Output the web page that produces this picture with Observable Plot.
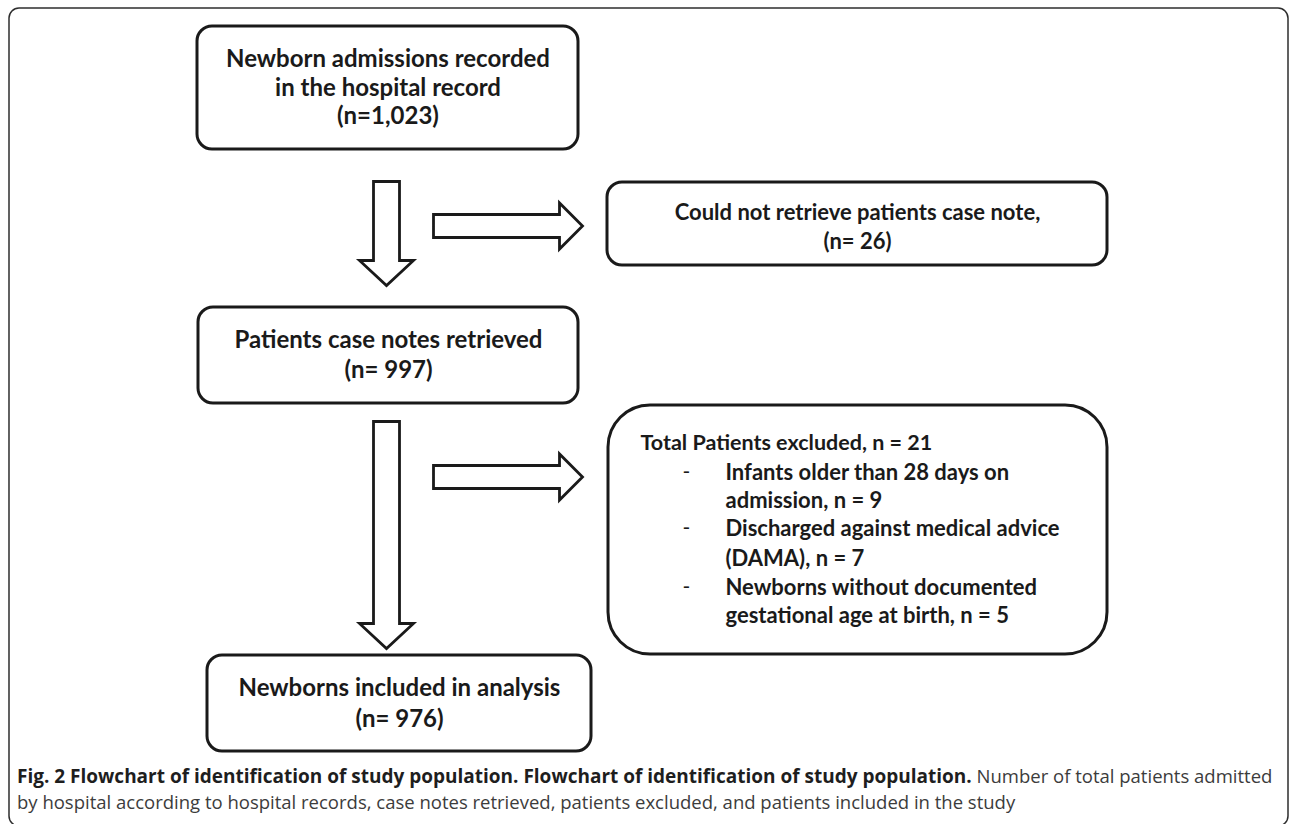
<!DOCTYPE html>
<html><head><meta charset="utf-8">
<script src="https://cdn.jsdelivr.net/npm/d3@7"></script>
<script src="https://cdn.jsdelivr.net/npm/@observablehq/plot@0.6"></script>
<style>
html,body{margin:0;padding:0;background:#fff;}
#wrap{position:relative;width:1290px;height:824px;overflow:hidden;}
#chart{position:absolute;left:0;top:0;}
#caption{position:absolute;left:17px;top:763px;font-family:"Open Sans",sans-serif;font-size:18.5px;line-height:25px;color:#3c3c3c;white-space:nowrap;}
#caption b{color:#1e1e1e;font-weight:700;font-size:19px;}
</style></head><body>
<div id="wrap"><div id="chart"></div><div id="caption"></div></div>
<script>
// ---------- data ----------
const stageLines = [["Newborn admissions recorded", "in the hospital record"], ["Patients case notes retrieved"], ["Newborns included in analysis"]];
const stageCounts = [1023, 997, 976];
const excludedLabel = "Could not retrieve patients case note,";
const excludedCount = 26;
const totalExcludedLabel = "Total Patients excluded";
const totalExcludedCount = 21;
const reasonLines = [["Infants older than 28 days on", "admission"], ["Discharged against medical advice", "(DAMA)"], ["Newborns without documented", "gestational age at birth"]];
const reasonCounts = [9, 7, 5];
const figLabel = "Fig. 2";
const figTitle = "Flowchart of identification of study population. Flowchart of identification of study population.";
const figDescLine1 = "Number of total patients admitted";
const figDescLine2 = "by hospital according to hospital records, case notes retrieved, patients excluded, and patients included in the study";

// ---------- layout ----------
const W = 1290, H = 824;
const ink = "#1a1a1a";
const frame = [{x1: 9, x2: 1288, y1: 8, y2: 826}];
const stageBoxes = [
  {x1: 197, x2: 578, y1: 26, y2: 149, lineY: [59, 88, 116]},
  {x1: 198, x2: 578, y1: 307, y2: 403, lineY: [340, 370]},
  {x1: 207, x2: 591, y1: 655, y2: 751, lineY: [688, 719]}
];
const exclBox = {x1: 607, x2: 1107, y1: 182, y2: 265, lineY: [212, 241]};
const totalBox = {x1: 608, x2: 1107, y1: 405, y2: 654, headX: 640, dashX: 686, textX: 725, lineY: [443, 472, 500, 528, 558, 587, 615]};
const downArrows = [
  {cx: 386, shaftW: 26, top: 181, headY: 260, headW: 54, tip: 285},
  {cx: 386, shaftW: 26, top: 421, headY: 623, headW: 54, tip: 648}
];
const rightArrows = [
  {cy: 225.5, shaftH: 23, left: 433, headX: 559, headH: 46, tip: 582},
  {cy: 476.5, shaftH: 23, left: 433, headX: 559, headH: 46, tip: 582}
];

// ---------- derived ----------
const fmt = d3.format(",");
const stageText = [];
stageBoxes.forEach((b, i) => {
  const cx = (b.x1 + b.x2) / 2;
  const lines = [...stageLines[i], i === 0 ? `(n=${fmt(stageCounts[i])})` : `(n= ${fmt(stageCounts[i])})`];
  lines.forEach((t, j) => stageText.push({x: cx, y: b.lineY[j], text: t}));
});
const exclText = [excludedLabel, `(n= ${excludedCount})`].map((t, j) =>
  ({x: (exclBox.x1 + exclBox.x2) / 2, y: exclBox.lineY[j], text: t}));

const headText = [{x: totalBox.headX, y: totalBox.lineY[0], text: `${totalExcludedLabel}, n = ${totalExcludedCount}`}];
const reasonText = [];
const dashes = [];
let k = 1;
reasonLines.forEach((lines, i) => {
  dashes.push({x: totalBox.dashX, y: totalBox.lineY[k], text: "-"});
  lines.forEach((t, j) => {
    const s = j === lines.length - 1 ? `${t}, n = ${reasonCounts[i]}` : t;
    reasonText.push({x: totalBox.textX, y: totalBox.lineY[k], text: s});
    k++;
  });
});

const arrowPts = [];
downArrows.forEach((a, i) => {
  const h = a.shaftW / 2, hw = a.headW / 2, id = "d" + i;
  [[a.cx, a.top], [a.cx + h, a.top], [a.cx + h, a.headY], [a.cx + hw, a.headY], [a.cx, a.tip],
   [a.cx - hw, a.headY], [a.cx - h, a.headY], [a.cx - h, a.top], [a.cx, a.top]]
    .forEach(([x, y]) => arrowPts.push({x, y, id}));
});
rightArrows.forEach((a, i) => {
  const h = a.shaftH / 2, hh = a.headH / 2, id = "r" + i;
  [[a.left, a.cy], [a.left, a.cy - h], [a.headX, a.cy - h], [a.headX, a.cy - hh], [a.tip, a.cy],
   [a.headX, a.cy + hh], [a.headX, a.cy + h], [a.left, a.cy + h], [a.left, a.cy]]
    .forEach(([x, y]) => arrowPts.push({x, y, id}));
});

const plot = Plot.plot({
  width: W, height: H, margin: 0,
  x: {type: "linear", domain: [0, W], range: [0, W], axis: null},
  y: {type: "linear", domain: [0, H], range: [0, H], axis: null},
  style: {background: "white", fontFamily: "Lato, sans-serif"},
  marks: [
    Plot.rect(frame, {x1: "x1", x2: "x2", y1: "y1", y2: "y2", rx: 10, fill: "none", stroke: "#2e2e2e", strokeWidth: 1.5}),
    Plot.rect([...stageBoxes, exclBox], {x1: "x1", x2: "x2", y1: "y1", y2: "y2", rx: 15, fill: "white", stroke: ink, strokeWidth: 3}),
    Plot.rect([totalBox], {x1: "x1", x2: "x2", y1: "y1", y2: "y2", rx: 42, fill: "white", stroke: ink, strokeWidth: 3}),
    Plot.line(arrowPts, {x: "x", y: "y", z: "id", curve: "linear", stroke: ink, strokeWidth: 2.8, strokeLinejoin: "miter", strokeMiterlimit: 10}),
    Plot.text(stageText, {x: "x", y: "y", text: "text", textAnchor: "middle", fontSize: 24, fontWeight: "bold", fill: ink}),
    Plot.text(exclText, {x: "x", y: "y", text: "text", textAnchor: "middle", fontSize: 22, fontWeight: "bold", fill: ink}),
    Plot.text(headText, {x: "x", y: "y", text: "text", textAnchor: "start", fontSize: 21.5, fontWeight: "bold", fill: ink}),
    Plot.text(reasonText, {x: "x", y: "y", text: "text", textAnchor: "start", fontSize: 22, fontWeight: "bold", fill: ink}),
    Plot.text(dashes, {x: "x", y: "y", text: "text", textAnchor: "middle", fontSize: 21, fontWeight: "normal", fill: ink})
  ]
});
document.getElementById("chart").append(plot);

const cap = document.getElementById("caption");
cap.innerHTML = `<b>${figLabel} ${figTitle}</b> ${figDescLine1}<br>${figDescLine2}`;
</script>
</body></html>
